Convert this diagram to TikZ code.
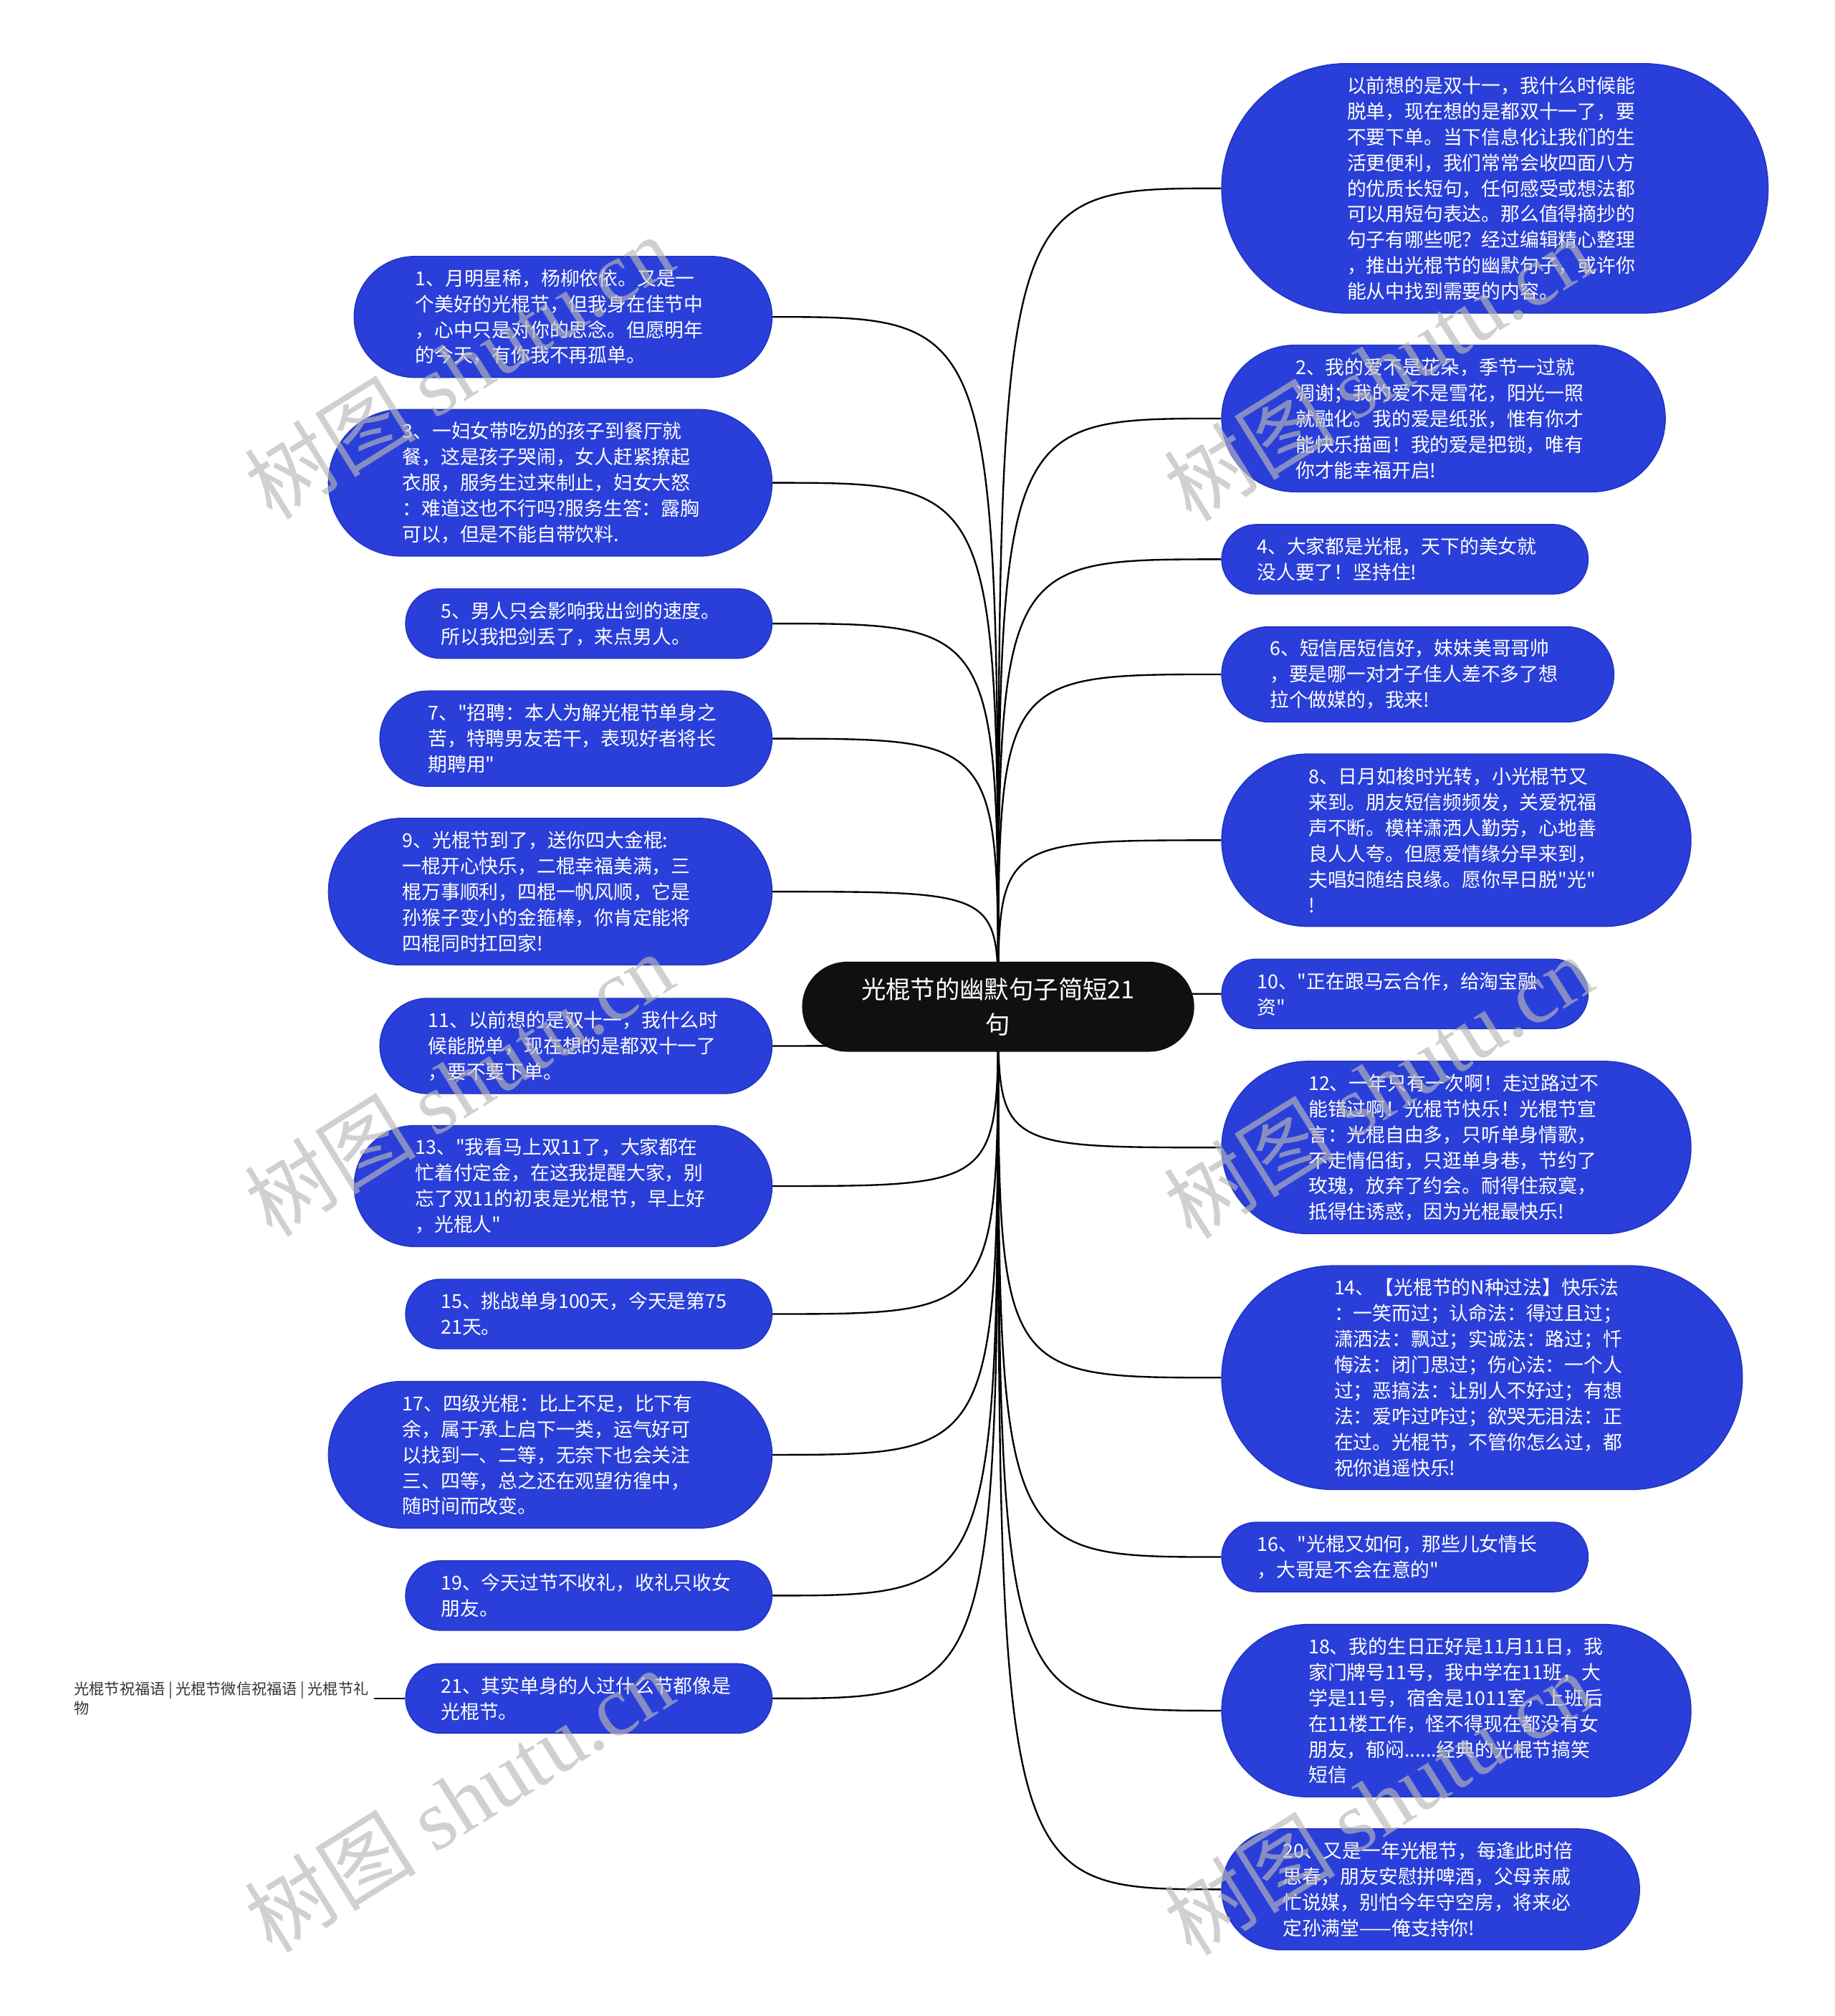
\documentclass[tikz,border=0pt]{standalone}
\usepackage{fontspec}
\usepackage{xcolor}
\usepackage{tikz}
\usetikzlibrary{positioning,backgrounds,shapes.misc}
\newfontfamily\cjk{Noto Sans CJK SC}
\newfontfamily\wmserif{Liberation Serif}
\definecolor{leafblue}{HTML}{2A3FD9}
\definecolor{leafedge}{HTML}{2035C4}
\definecolor{rootblack}{HTML}{101010}
\definecolor{tagink}{HTML}{333333}
\definecolor{wmgray}{HTML}{B8B8B8}
\tikzset{
    every picture/.style={line cap=round,line join=round},
    rootnode/.style={rounded rectangle,fill=rootblack,text=white,
      minimum width=61mm,minimum height=14mm,inner sep=0pt,align=center,
      font={\cjk\fontsize{10.9pt}{15.4pt}\selectfont}},
    leaf/.style={rounded rectangle,draw=leafedge,fill=leafblue,line width=0.5pt,
      text=white,text width=46mm,align=left,inner xsep=0pt,inner ysep=1pt,
      minimum width={49mm+4mm*#1},minimum height={2.8mm+4mm*#1},
      font={\cjk\fontsize{8.5pt}{11.4pt}\selectfont}},
    branch/.style={draw=black,line width=0.75pt},
    tagtext/.style={text=tagink,align=left,inner xsep=0.8mm,inner ysep=0pt,
      font={\cjk\fontsize{6.7pt}{8.5pt}\selectfont}},
    watermark/.style={text=wmgray,text opacity=0.65,rotate=32,
      font={\cjk\fontsize{38pt}{40pt}\selectfont}}
}
\begin{document}
\begin{tikzpicture}[x=0.2mm,y=-0.2mm]
  \useasboundingbox (0,0) rectangle (1427,1568);
  \node[rootnode] (root) at (776.5,783) {光棍节的幽默句子简短21\\句};

  % left column
  \node[leaf=4,anchor=east] (l1) at (601,246.5) {1、月明星稀，杨柳依依。又是一\\个美好的光棍节，但我身在佳节中\\，心中只是对你的思念。但愿明年\\的今天，有你我不再孤单。};
  \node[leaf=5,anchor=east] (l3) at (601,375.5) {3、一妇女带吃奶的孩子到餐厅就\\餐，这是孩子哭闹，女人赶紧撩起\\衣服，服务生过来制止，妇女大怒\\：难道这也不行吗?服务生答：露胸\\可以，但是不能自带饮料.};
  \node[leaf=2,anchor=east] (l5) at (601,485) {5、男人只会影响我出剑的速度。\\所以我把剑丢了，来点男人。};
  \node[leaf=3,anchor=east] (l7) at (601,574.5) {7、"招聘：本人为解光棍节单身之\\苦，特聘男友若干，表现好者将长\\期聘用"};
  \node[leaf=5,anchor=east] (l9) at (601,693.5) {9、光棍节到了，送你四大金棍:\\一棍开心快乐，二棍幸福美满，三\\棍万事顺利，四棍一帆风顺，它是\\孙猴子变小的金箍棒，你肯定能将\\四棍同时扛回家!};
  \node[leaf=3,anchor=east] (l11) at (601,813.5) {11、以前想的是双十一，我什么时\\候能脱单，现在想的是都双十一了\\，要不要下单。};
  \node[leaf=4,anchor=east] (l13) at (601,922.5) {13、"我看马上双11了，大家都在\\忙着付定金，在这我提醒大家，别\\忘了双11的初衷是光棍节，早上好\\，光棍人"};
  \node[leaf=2,anchor=east] (l15) at (601,1022) {15、挑战单身100天，今天是第75\\21天。};
  \node[leaf=5,anchor=east] (l17) at (601,1131.5) {17、四级光棍：比上不足，比下有\\余，属于承上启下一类，运气好可\\以找到一、二等，无奈下也会关注\\三、四等，总之还在观望彷徨中，\\随时间而改变。};
  \node[leaf=2,anchor=east] (l19) at (601,1241) {19、今天过节不收礼，收礼只收女\\朋友。};
  \node[leaf=2,anchor=east] (l21) at (601,1321) {21、其实单身的人过什么节都像是\\光棍节。};

  % right column
  \node[leaf=9,anchor=west] (r0) at (950,146.5) {以前想的是双十一，我什么时候能\\脱单，现在想的是都双十一了，要\\不要下单。当下信息化让我们的生\\活更便利，我们常常会收四面八方\\的优质长短句，任何感受或想法都\\可以用短句表达。那么值得摘抄的\\句子有哪些呢？经过编辑精心整理\\，推出光棍节的幽默句子，或许你\\能从中找到需要的内容。};
  \node[leaf=5,anchor=west] (r2) at (950,325.5) {2、我的爱不是花朵，季节一过就\\凋谢；我的爱不是雪花，阳光一照\\就融化。我的爱是纸张，惟有你才\\能快乐描画！我的爱是把锁，唯有\\你才能幸福开启!};
  \node[leaf=2,anchor=west] (r4) at (950,435) {4、大家都是光棍，天下的美女就\\没人要了！坚持住!};
  \node[leaf=3,anchor=west] (r6) at (950,524.5) {6、短信居短信好，妹妹美哥哥帅\\，要是哪一对才子佳人差不多了想\\拉个做媒的，我来!};
  \node[leaf=6,anchor=west] (r8) at (950,653.5) {8、日月如梭时光转，小光棍节又\\来到。朋友短信频频发，关爱祝福\\声不断。模样潇洒人勤劳，心地善\\良人人夸。但愿爱情缘分早来到，\\夫唱妇随结良缘。愿你早日脱"光"\\!};
  \node[leaf=2,anchor=west] (r10) at (950,773) {10、"正在跟马云合作，给淘宝融\\资"};
  \node[leaf=6,anchor=west] (r12) at (950,892.5) {12、一年只有一次啊！走过路过不\\能错过啊！光棍节快乐！光棍节宣\\言：光棍自由多，只听单身情歌，\\不走情侣街，只逛单身巷，节约了\\玫瑰，放弃了约会。耐得住寂寞，\\抵得住诱惑，因为光棍最快乐!};
  \node[leaf=8,anchor=west] (r14) at (950,1071.5) {14、【光棍节的N种过法】快乐法\\：一笑而过；认命法：得过且过；\\潇洒法：飘过；实诚法：路过；忏\\悔法：闭门思过；伤心法：一个人\\过；恶搞法：让别人不好过；有想\\法：爱咋过咋过；欲哭无泪法：正\\在过。光棍节，不管你怎么过，都\\祝你逍遥快乐!};
  \node[leaf=2,anchor=west] (r16) at (950,1211) {16、"光棍又如何，那些儿女情长\\，大哥是不会在意的"};
  \node[leaf=6,anchor=west] (r18) at (950,1330.5) {18、我的生日正好是11月11日，我\\家门牌号11号，我中学在11班，大\\学是11号，宿舍是1011室，上班后\\在11楼工作，怪不得现在都没有女\\朋友，郁闷......经典的光棍节搞笑\\短信};
  \node[leaf=4,anchor=west] (r20) at (950,1469.5) {20、又是一年光棍节，每逢此时倍\\思春，朋友安慰拼啤酒，父母亲戚\\忙说媒，别怕今年守空房，将来必\\定孙满堂——俺支持你!};

  \node[tagtext,anchor=east] (tag) at (291,1321) {光棍节祝福语 | 光棍节微信祝福语 | 光棍节礼\\物};

  \begin{scope}[on background layer]
    \fill[white] (0,0) rectangle (1427,1568);
    \foreach \n in {l1,l3,l5,l7,l9,l11,l13,l15,l17,l19,l21}
      \draw[branch] (root.center) .. controls (root.center |- \n.east) .. (\n.east);
    \foreach \n in {r0,r2,r4,r6,r8,r10,r12,r14,r16,r18,r20}
      \draw[branch] (root.center) .. controls (root.center |- \n.west) .. (\n.west);
    \draw[branch] (tag.east) -- (l21.west);
  \end{scope}

  % watermarks
  \foreach \i/\p in {1/{357,285},2/{1072,287},3/{357,843},4/{1072,845},5/{357,1400},6/{1072,1402}}
    \node[watermark] (wm\i) at (\p) {树图 {\wmserif shutu.cn}};
\end{tikzpicture}
\end{document}
